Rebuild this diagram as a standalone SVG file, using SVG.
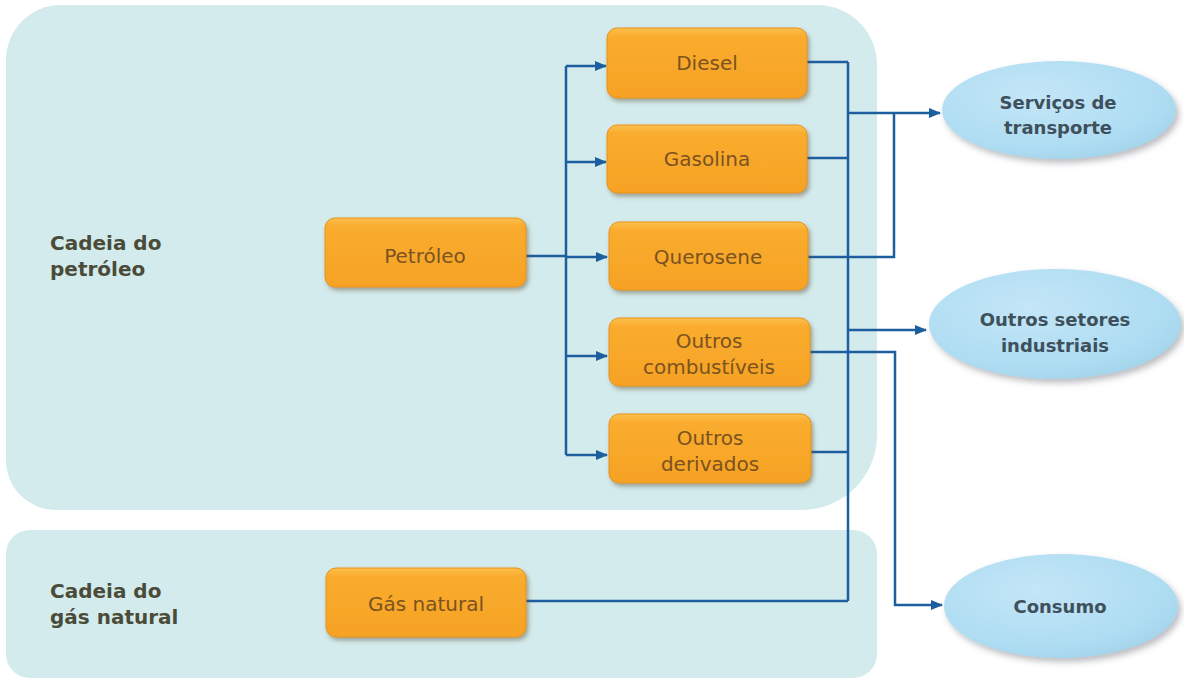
<svg xmlns="http://www.w3.org/2000/svg" width="1184" height="679" viewBox="0 0 1184 679">
  <defs>
    <linearGradient id="boxFill" x1="0" y1="0" x2="0" y2="1">
      <stop offset="0" stop-color="#fcc04f"/>
      <stop offset="0.12" stop-color="#f9ac2e"/>
      <stop offset="1" stop-color="#f6a224"/>
    </linearGradient>
    <radialGradient id="ovalFill" cx="0.4" cy="0.35" r="0.7">
      <stop offset="0" stop-color="#c4e6f7"/>
      <stop offset="0.8" stop-color="#addcf2"/>
      <stop offset="1" stop-color="#a3d3ea"/>
    </radialGradient>
    <filter id="boxShadow" x="-10%" y="-20%" width="125%" height="150%">
      <feDropShadow dx="2" dy="3" stdDeviation="2" flood-color="#5a4a2a" flood-opacity="0.45"/>
    </filter>
    <filter id="ovalShadow" x="-10%" y="-20%" width="125%" height="150%">
      <feDropShadow dx="3" dy="4" stdDeviation="3" flood-color="#6a7078" flood-opacity="0.45"/>
    </filter>
    <marker id="arrow" markerWidth="12" markerHeight="10" refX="11" refY="5" orient="auto" markerUnits="userSpaceOnUse">
      <path d="M0,0 L12,5 L0,10 z" fill="#1d5e9e"/>
    </marker>
    <style>
      .panel { fill: #d3ebec; }
      .box { fill: url(#boxFill); stroke: #e8921a; stroke-width: 1; filter: url(#boxShadow); }
      .oval { fill: url(#ovalFill); filter: url(#ovalShadow); }
      .boxText { font-family: "DejaVu Sans", "Liberation Sans", sans-serif; font-size: 20px; fill: #7b5220; text-anchor: middle; }
      .ovalText { font-family: "DejaVu Sans", "Liberation Sans", sans-serif; font-size: 18px; font-weight: bold; fill: #3e505c; text-anchor: middle; }
      .chainText { font-family: "DejaVu Sans", "Liberation Sans", sans-serif; font-size: 20px; font-weight: bold; fill: #4b4b3a; }
      .link { fill: none; stroke: #1d5e9e; stroke-width: 2.5; }
      .arrowLink { fill: none; stroke: #1d5e9e; stroke-width: 2.5; marker-end: url(#arrow); }
    </style>
  </defs>

  <rect width="1184" height="679" fill="#ffffff"/>

  <!-- background panels for the two chains -->
  <g id="panel-petroleo">
    <path class="panel" d="M61,5 H817 A60,60 0 0 1 877,65 V435 A75,75 0 0 1 802,510 H56 A50,50 0 0 1 6,460 V60 A55,55 0 0 1 61,5 Z"/>
    <text class="chainText" x="50" y="250">Cadeia do</text>
    <text class="chainText" x="50" y="276">petróleo</text>
  </g>
  <g id="panel-gas">
    <rect class="panel" x="6" y="530" width="871" height="148" rx="24" ry="24"/>
    <text class="chainText" x="50" y="598">Cadeia do</text>
    <text class="chainText" x="50" y="624">gás natural</text>
  </g>

  <!-- connectors -->
  <g id="connectors">
    <!-- Petróleo splits into its derivatives -->
    <path class="link" d="M526,256 H566"/>
    <path class="link" d="M566,66 V455"/>
    <path class="arrowLink" d="M566,66 H606"/>
    <path class="arrowLink" d="M566,162 H606"/>
    <path class="arrowLink" d="M566,257 H607"/>
    <path class="arrowLink" d="M566,356 H607"/>
    <path class="arrowLink" d="M566,455 H607"/>
    <!-- collector bus on the right -->
    <path class="link" d="M807,62 H848"/>
    <path class="link" d="M807,158 H848"/>
    <path class="link" d="M810,452 H848"/>
    <path class="link" d="M526,601 H848"/>
    <path class="link" d="M848,62 V601"/>
    <path class="arrowLink" d="M848,113 H940"/>
    <path class="arrowLink" d="M848,330 H926"/>
    <!-- Querosene joins the transport line -->
    <path class="link" d="M808,257 H894 V113"/>
    <!-- Outros combustíveis to Consumo -->
    <path class="arrowLink" d="M810,352 H895 V605 H942"/>
  </g>

  <!-- derivative nodes -->
  <g id="node-petroleo">
    <rect class="box" x="325" y="218" width="201" height="69" rx="10"/>
    <text class="boxText" x="425" y="263">Petróleo</text>
  </g>
  <g id="node-gas-natural">
    <rect class="box" x="326" y="568" width="200" height="69" rx="10"/>
    <text class="boxText" x="426" y="611">Gás natural</text>
  </g>
  <g id="node-diesel">
    <rect class="box" x="607" y="28" width="200" height="70" rx="10"/>
    <text class="boxText" x="707" y="70">Diesel</text>
  </g>
  <g id="node-gasolina">
    <rect class="box" x="607" y="125" width="200" height="68" rx="10"/>
    <text class="boxText" x="707" y="166">Gasolina</text>
  </g>
  <g id="node-querosene">
    <rect class="box" x="609" y="222" width="199" height="68" rx="10"/>
    <text class="boxText" x="708" y="264">Querosene</text>
  </g>
  <g id="node-outros-combustiveis">
    <rect class="box" x="609" y="318" width="201" height="68" rx="10"/>
    <text class="boxText" x="709" y="348">Outros</text>
    <text class="boxText" x="709" y="374">combustíveis</text>
  </g>
  <g id="node-outros-derivados">
    <rect class="box" x="609" y="414" width="202" height="69" rx="10"/>
    <text class="boxText" x="710" y="445">Outros</text>
    <text class="boxText" x="710" y="471">derivados</text>
  </g>

  <!-- destination nodes -->
  <g id="node-servicos-transporte">
    <ellipse class="oval" cx="1059" cy="110" rx="117" ry="49"/>
    <text class="ovalText" x="1058" y="109">Serviços de</text>
    <text class="ovalText" x="1058" y="134">transporte</text>
  </g>
  <g id="node-outros-setores">
    <ellipse class="oval" cx="1055" cy="324" rx="126" ry="55"/>
    <text class="ovalText" x="1055" y="326">Outros setores</text>
    <text class="ovalText" x="1055" y="352">industriais</text>
  </g>
  <g id="node-consumo">
    <ellipse class="oval" cx="1061" cy="606" rx="117" ry="52"/>
    <text class="ovalText" x="1060" y="613">Consumo</text>
  </g>
</svg>
